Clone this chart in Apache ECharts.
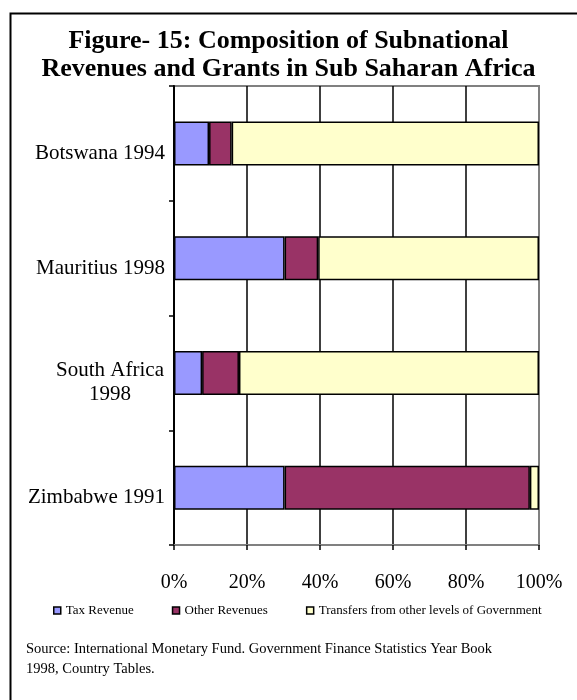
<!DOCTYPE html>
<html>
<head>
<meta charset="utf-8">
<script src="https://cdn.jsdelivr.net/npm/echarts@6/dist/echarts.min.js"></script>
<style>
  html, body { margin: 0; padding: 0; background: #fff; }
  #chart { width: 577px; height: 700px; }
</style>
</head>
<body>
<div id="chart"></div>
<script>
// data (percent of total)
const countries = ["Botswana 1994", "Mauritius 1998", "South Africa\n1998", "Zimbabwe 1991"];
const taxRevenue = [9.6, 30.3, 7.7, 30.3];
const otherRevenues = [6.2, 9.2, 10.1, 67.2];
const transfers = [84.2, 60.5, 82.2, 2.5];
const seriesNames = ["Tax Revenue", "Other Revenues", "Transfers from other levels of Government"];
const xTicks = [0, 20, 40, 60, 80, 100];

const serif = "Liberation Serif";

let chart = echarts.init(document.getElementById("chart"));

function barSeries(name, data, color) {
  return {
    name: name,
    type: "bar",
    stack: "total",
    barWidth: 44,
    data: data,
    itemStyle: {
      color: color,
      borderColor: "#000",
      borderWidth: 1.5
    }
  };
}

let option = {
  animation: false,
  backgroundColor: "#fff",
  title: {
    text: "Figure- 15: Composition of Subnational\nRevenues and Grants in Sub Saharan Africa",
    left: "center",
    top: 22,
    textStyle: {
      fontFamily: serif,
      fontWeight: "bold",
      fontSize: 26,
      lineHeight: 28,
      color: "#000"
    }
  },
  legend: {
    left: 48,
    top: 599,
    itemGap: 38,
    itemWidth: 7,
    itemHeight: 7,
    icon: "rect",
    itemStyle: { borderColor: "#000", borderWidth: 1.5 },
    textStyle: {
      fontFamily: serif,
      fontSize: 13,
      color: "#000",
      padding: [13, 0, 0, 0]
    },
    data: seriesNames
  },
  grid: {
    left: 174,
    right: 38,
    top: 86,
    bottom: 155,
    show: true,
    backgroundColor: "#fff",
    borderColor: "#808080",
    borderWidth: 2
  },
  xAxis: {
    type: "value",
    min: xTicks[0],
    max: xTicks[xTicks.length - 1],
    interval: 20,
    axisLine: { show: true, lineStyle: { color: "#808080", width: 2 } },
    axisTick: { show: true, length: 5, lineStyle: { color: "#000", width: 1.5 } },
    axisLabel: {
      margin: 28,
      formatter: "{value}%",
      fontFamily: serif,
      fontSize: 20,
      color: "#000"
    },
    splitLine: {
      show: true,
      showMinLine: false,
      showMaxLine: false,
      lineStyle: { color: "#000", width: 1.5 }
    }
  },
  yAxis: {
    type: "category",
    inverse: true,
    data: countries,
    axisLine: { show: true, lineStyle: { color: "#000", width: 2 } },
    axisTick: { show: true, length: 5, lineStyle: { color: "#000", width: 1.5 } },
    axisLabel: {
      margin: 9,
      padding: [20, 0, 0, 0],
      fontFamily: serif,
      fontSize: 21,
      lineHeight: 24,
      color: "#000",
      formatter: function (v) {
        if (v.indexOf("\n") < 0) return v;
        return v.split("\n").map(function (s) { return "{c|" + s + "}"; }).join("\n");
      },
      rich: {
        c: {
          width: 110,
          align: "center",
          fontFamily: serif,
          fontSize: 21,
          lineHeight: 24,
          color: "#000"
        }
      }
    },
    splitLine: { show: false }
  },
  series: [
    barSeries(seriesNames[0], taxRevenue, "#9999ff"),
    barSeries(seriesNames[1], otherRevenues, "#993366"),
    barSeries(seriesNames[2], transfers, "#ffffcc")
  ],
  graphic: [
    {
      type: "rect",
      left: 8,
      top: 11,
      shape: { width: 700, height: 800 },
      style: { fill: "none", stroke: "#000", lineWidth: 2 },
      silent: true
    },
    {
      type: "text",
      left: 26,
      top: 639,
      style: {
        text: "Source: International Monetary Fund. Government Finance Statistics Year Book\n1998, Country Tables.",
        font: "14.5px 'Liberation Serif'",
        lineHeight: 20,
        fill: "#000"
      }
    }
  ]
};

chart.setOption(option);
</script>
</body>
</html>
